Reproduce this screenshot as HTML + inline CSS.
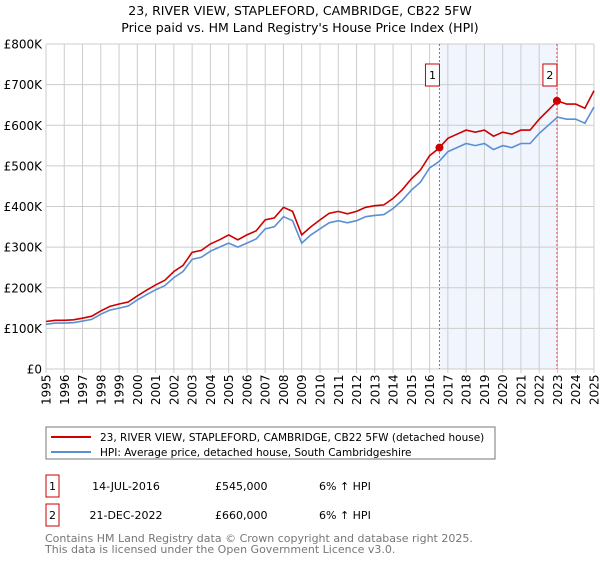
<!DOCTYPE html>
<html><head><meta charset="utf-8"><style>
body{margin:0;background:#fff;font-family:"Liberation Sans","DejaVu Sans",sans-serif;}
#wrap{position:relative;width:600px;height:560px;}
</style></head><body><div id="wrap">
<svg id="chart" width="600" height="560" font-family="DejaVu Sans, Liberation Sans, sans-serif"></svg>
</div>
<script>
const years=[1995,1995.5,1996,1996.5,1997,1997.5,1998,1998.5,1999,1999.5,2000,2000.5,2001,2001.5,2002,2002.5,2003,2003.5,2004,2004.5,2005,2005.5,2006,2006.5,2007,2007.5,2008,2008.5,2009,2009.5,2010,2010.5,2011,2011.5,2012,2012.5,2013,2013.5,2014,2014.5,2015,2015.5,2016,2016.5,2017,2017.5,2018,2018.5,2019,2019.5,2020,2020.5,2021,2021.5,2022,2022.5,2023,2023.5,2024,2024.5,2025];
const hpiValues=[110,113,113,114,118,122,135,145,150,155,170,183,195,205,225,240,270,275,290,300,310,300,310,320,345,350,375,365,310,330,345,360,365,360,365,375,378,380,395,415,440,460,495,510,535,545,555,550,555,540,550,545,555,555,580,600,620,615,615,605,645];
const priceValues=[117,120,120,121,125,130,143,154,160,165,180,194,207,218,240,255,287,292,308,318,330,318,330,340,367,372,398,388,330,350,367,383,388,382,388,398,402,404,420,441,468,490,525,543,568,578,588,583,588,573,583,578,588,588,615,637,660,652,652,642,685];
const sales=[{label:"1",t:2016.54,v:545},{label:"2",t:2022.97,v:660}];
const yTicks=[0,100,200,300,400,500,600,700,800];
const yTickLabels=["£0","£100K","£200K","£300K","£400K","£500K","£600K","£700K","£800K"];
const xTicks=[1995,1996,1997,1998,1999,2000,2001,2002,2003,2004,2005,2006,2007,2008,2009,2010,2011,2012,2013,2014,2015,2016,2017,2018,2019,2020,2021,2022,2023,2024,2025];

const svg=document.getElementById('chart');const NS='http://www.w3.org/2000/svg';
const L=46,R=594,T=44,B=369;
const x=t=>L+(t-1995)/30*(R-L);
const y=v=>B-v/800*(B-T);
function mk(tag,attrs,parent){const e=document.createElementNS(NS,tag);for(const k in attrs)e.setAttribute(k,attrs[k]);(parent||svg).appendChild(e);return e;}
let e;
e=mk('text',{x:300,y:15,'text-anchor':'middle','font-size':12.5,fill:'#000'});e.textContent='23, RIVER VIEW, STAPLEFORD, CAMBRIDGE, CB22 5FW';


e=mk('text',{x:300,y:32,'text-anchor':'middle','font-size':12.5,fill:'#000'});e.textContent="Price paid vs. HM Land Registry's House Price Index (HPI)";


e=mk('rect',{x:x(sales[0].t),y:T,width:x(sales[1].t)-x(sales[0].t),height:B-T,fill:'#eef3fc',opacity:0.8});


yTicks.forEach((v,i)=>{
 e=mk('line',{x1:L,x2:R,y1:y(v),y2:y(v),stroke:'#ccc','stroke-width':1});
 
 
 e=mk('text',{x:L-4,y:y(v)+4.5,'text-anchor':'end','font-size':12,fill:'#000'});e.textContent=yTickLabels[i];
 
 
});
xTicks.forEach(t=>{
 e=mk('line',{x1:x(t),x2:x(t),y1:T,y2:B+4,stroke:'#ccc','stroke-width':1});
 
 
 const lx=x(t)+4.5, ly=B+36;
 e=mk('text',{x:lx,y:ly,transform:`rotate(-90 ${lx} ${ly})`,'font-size':12,fill:'#000'});e.textContent=t;
 
 
});
sales.forEach(s=>{
 e=mk('line',{x1:x(s.t),x2:x(s.t),y1:T,y2:B,stroke:'#e05050','stroke-width':1,'stroke-dasharray':'2,2'});
 
 
 e=mk('rect',{x:x(s.t)-14,y:64,width:14,height:22,fill:'#fff',stroke:'#cc0000'});
 
 
 e=mk('text',{x:x(s.t)-7,y:79,'text-anchor':'middle','font-size':11,fill:'#000'});e.textContent=s.label;
 
 
});
const pts=a=>a.map((v,i)=>x(years[i]).toFixed(1)+','+y(v).toFixed(1)).join(' ');
e=mk('polyline',{points:pts(hpiValues),fill:'none',stroke:'#5b8fd4','stroke-width':1.6});


e=mk('polyline',{points:pts(priceValues),fill:'none',stroke:'#cc0000','stroke-width':1.6});


sales.forEach(s=>{
 e=mk('circle',{cx:x(s.t),cy:y(s.v),r:4,fill:'#cc0000'});
 
 
});
e=mk('rect',{x:46,y:427,width:449,height:32,fill:'#fff',stroke:'#777'});


e=mk('line',{x1:51,x2:91,y1:437,y2:437,stroke:'#cc0000','stroke-width':2});


e=mk('text',{x:100,y:441,'font-size':10.5,fill:'#000'});e.textContent='23, RIVER VIEW, STAPLEFORD, CAMBRIDGE, CB22 5FW (detached house)';


e=mk('line',{x1:51,x2:91,y1:452,y2:452,stroke:'#5b8fd4','stroke-width':2});


e=mk('text',{x:100,y:456,'font-size':10.5,fill:'#000'});e.textContent='HPI: Average price, detached house, South Cambridgeshire';


const rows=[["1","14-JUL-2016","£545,000","6% ↑ HPI",484],["2","21-DEC-2022","£660,000","6% ↑ HPI",513]];
rows.forEach(r=>{
 const yy=r[4];
 e=mk('rect',{x:46,y:yy-9,width:13,height:22,fill:'#fff',stroke:'#cc0000'});
 
 
 e=mk('text',{x:52.5,y:yy+6,'text-anchor':'middle','font-size':11,fill:'#000'});e.textContent=r[0];
 
 
 e=mk('text',{x:126,y:yy+6,'text-anchor':'middle','font-size':11,fill:'#000'});e.textContent=r[1];
 
 
 e=mk('text',{x:215,y:yy+6,'font-size':11,fill:'#000'});e.textContent=r[2];
 
 
 e=mk('text',{x:319,y:yy+6,'font-size':11,fill:'#000'});e.textContent=r[3];
 
 
});
e=mk('text',{x:45,y:542,'font-size':11,fill:'#777'});e.textContent='Contains HM Land Registry data © Crown copyright and database right 2025.';


e=mk('text',{x:45,y:553,'font-size':11,fill:'#777'});e.textContent='This data is licensed under the Open Government Licence v3.0.';


</script></body></html>
